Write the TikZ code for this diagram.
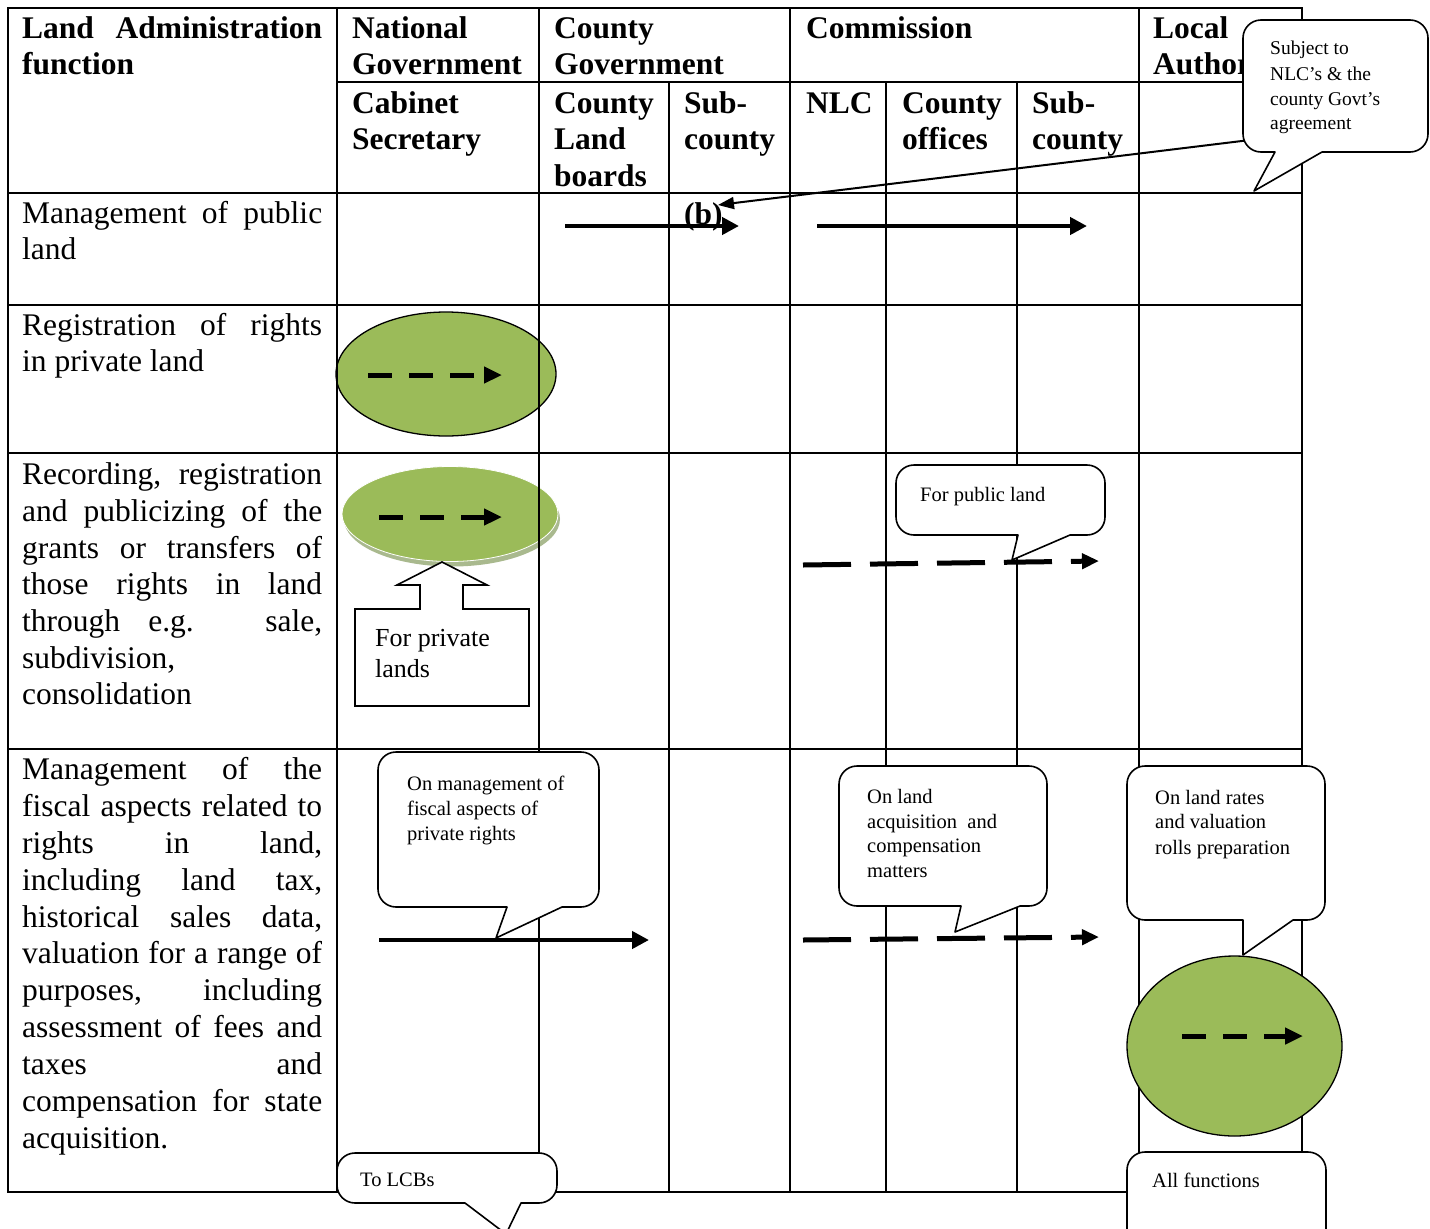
\documentclass[tikz,border=0pt]{standalone}
\usepackage{fontspec}
\setmainfont{Liberation Serif}
\usetikzlibrary{arrows.meta,shapes.geometric}
\definecolor{olivegreen}{HTML}{9BBB59}
\definecolor{oliveshadow}{HTML}{A9B98E}
\newcommand{\J}[1]{\makebox[300pt][s]{#1}}
% callout: x1,y1,x2,y2, pointer base xa, xb, tip tx, ty
\newcommand{\mycallout}[8]{%
  \filldraw[calloutbox] (#5,#4) -- (#7,#8) -- (#6,#4) -- ({#3-18},#4) arc[start angle=90,end angle=0,radius=18]
  -- (#3,{#2+18}) arc[start angle=0,end angle=-90,radius=18]
  -- ({#1+18},#2) arc[start angle=270,end angle=180,radius=18]
  -- (#1,{#4-18}) arc[start angle=180,end angle=90,radius=18] -- cycle;}
\begin{document}
\begin{tikzpicture}[x=1pt,y=-1pt,
  grid/.style={line width=2.2pt},
  body/.style={anchor=base west, inner sep=0pt, font=\fontsize{31.5}{36}\selectfont},
  head/.style={anchor=base west, inner sep=0pt, font=\fontsize{31.5}{36}\selectfont\bfseries},
  small/.style={anchor=base west, inner sep=0pt, font=\fontsize{20.5}{25}\selectfont},
  tiny/.style={anchor=base west, inner sep=0pt, font=\fontsize{19.5}{24}\selectfont},
  mid/.style={anchor=base west, inner sep=0pt, font=\fontsize{26}{31}\selectfont},
  calloutbox/.style={draw=black, fill=white, line width=1.6pt, line join=round},
  solidarrow/.style={line width=4.5pt, -{Triangle[length=17pt,width=17pt]}},
  dasharrow/.style={line width=5pt, dash pattern=on 48pt off 19pt, -{Triangle[length=17pt,width=15pt]}},
  shortdash/.style={line width=5pt, dash pattern=on 24pt off 17pt, -{Triangle[length=18pt,width=16pt]}},
  greenell/.style={ellipse, fill=olivegreen, draw=black, line width=1.3pt, inner sep=0pt}]
\useasboundingbox (0,0) rectangle (1430,1229);
\fill[white] (0,0) rectangle (1430,1229);
\clip (0,0) rectangle (1430,1229);

% ellipses under the grid
\node[greenell, minimum width=220pt, minimum height=124pt] (e1) at (446,374) {};
\node[ellipse, fill=oliveshadow, inner sep=0pt, minimum width=216pt, minimum height=95pt] (e2s) at (452,519) {};
\node[ellipse, fill=olivegreen, draw=white, line width=0.8pt, inner sep=0pt, minimum width=216pt, minimum height=95pt] (e2) at (450,514) {};

% grid
\draw[grid] (8,8) rectangle (1302,1192);
\draw[grid] (337,82) -- (1302,82);
\foreach \yy in {193,305,453,749} {\draw[grid] (8,\yy) -- (1302,\yy);}
\foreach \xx in {337,539,790,1139} {\draw[grid] (\xx,8) -- (\xx,1192);}
\foreach \xx in {669,886,1017} {\draw[grid] (\xx,82) -- (\xx,1192);}

% ellipse over the grid
\node[greenell, minimum width=215pt, minimum height=180pt] (e3) at (1234.5,1046) {};

% headers
\node[head] (h1a) at (22,38) {\J{Land Administration}};
\node[head] (h1b) at (22,74) {function};
\node[head] (h2a) at (352,38) {National};
\node[head] (h2b) at (352,74) {Government};
\node[head] (h3a) at (554,38) {County};
\node[head] (h3b) at (554,74) {Government};
\node[head] (h4) at (806,38) {Commission};
\node[head] (h5a) at (1153,38) {Local};
\node[head] (h5b) at (1153,74) {Authority};
\node[head] (s1a) at (352,113) {Cabinet};
\node[head] (s1b) at (352,149.5) {Secretary};
\node[head] (s2a) at (554,113) {County};
\node[head] (s2b) at (554,149.5) {Land};
\node[head] (s2c) at (554,186) {boards};
\node[head] (s3a) at (684,113) {Sub-};
\node[head] (s3b) at (684,149.5) {county};
\node[head] (s4) at (806,113) {NLC};
\node[head] (s5a) at (902,113) {County};
\node[head] (s5b) at (902,149.5) {offices};
\node[head] (s6a) at (1032,113) {Sub-};
\node[head] (s6b) at (1032,149.5) {county};

% row texts
\node[body] (r1a) at (22,223) {\J{Management of public}};
\node[body] (r1b) at (22,259) {land};
\node[body] (r2a) at (22,335) {\J{Registration of rights}};
\node[body] (r2b) at (22,371) {in private land};
\node[body] (r3a) at (22,484) {\J{Recording, registration}};
\node[body] (r3b) at (22,521) {\J{and publicizing of the}};
\node[body] (r3c) at (22,558) {\J{grants or transfers of}};
\node[body] (r3d) at (22,594) {\J{those rights in land}};
\node[body] (r3e) at (22,631) {\J{through e.g. sale,}};
\node[body] (r3f) at (22,668) {subdivision,};
\node[body] (r3g) at (22,704) {consolidation};
\node[body] (r4a) at (22,779) {\J{Management of the}};
\node[body] (r4b) at (22,816) {\J{fiscal aspects related to}};
\node[body] (r4c) at (22,853) {\J{rights in land,}};
\node[body] (r4d) at (22,890) {\J{including land tax,}};
\node[body] (r4e) at (22,927) {\J{historical sales data,}};
\node[body] (r4f) at (22,963) {\J{valuation for a range of}};
\node[body] (r4g) at (22,1000) {\J{purposes, including}};
\node[body] (r4h) at (22,1037) {\J{assessment of fees and}};
\node[body] (r4i) at (22,1074) {\J{taxes and}};
\node[body] (r4j) at (22,1111) {\J{compensation for state}};
\node[body] (r4k) at (22,1148) {acquisition.};

\node[head] (bl) at (684,224) {(b)};

% arrows
\coordinate (a1s) at (565,226); \coordinate (a1e) at (739,226);
\coordinate (a2s) at (817,226); \coordinate (a2e) at (1087,226);
\draw[solidarrow] (a1s) -- (a1e);
\draw[solidarrow] (a2s) -- (a2e);
\coordinate (cs) at (1250,140); \coordinate (bt) at (718,205);
\draw[line width=2pt, -{Triangle[length=16pt,width=12pt]}] (cs) -- (bt);

\coordinate (d1s) at (368,375); \coordinate (d1e) at (502,375);
\draw[shortdash] (d1s) -- (d1e);
\coordinate (d2s) at (379,517); \coordinate (d2e) at (502,517);
\draw[shortdash] (d2s) -- (d2e);
\coordinate (d3s) at (803,565); \coordinate (d3e) at (1099,561);
\draw[dasharrow] (d3s) -- (d3e);
\coordinate (f1s) at (379,940); \coordinate (f1e) at (649,940);
\draw[solidarrow] (f1s) -- (f1e);
\coordinate (d4s) at (803,940); \coordinate (d4e) at (1099,937);
\draw[dasharrow] (d4s) -- (d4e);
\coordinate (d5s) at (1182,1036); \coordinate (d5e) at (1303,1036);
\draw[shortdash] (d5s) -- (d5e);

% up-arrow callout
\filldraw[calloutbox, line join=miter] (355,609) -- (420,609) -- (420,585) -- (397,585) -- (442,562) -- (487,585) -- (463,585) -- (463,609) -- (529,609) -- (529,706) -- (355,706) -- cycle;
\node[mid] (fp1) at (375,646) {For private};
\node[mid] (fp2) at (375,677) {lands};

% callouts
\mycallout{1243}{20}{1428}{152}{1275}{1322}{1254}{191}
\node[tiny] (c1a) at (1270,54.5) {Subject to};
\node[tiny] (c1b) at (1270,80) {NLC’s \& the};
\node[tiny] (c1c) at (1270,105) {county Govt’s};
\node[tiny] (c1d) at (1270,129.5) {agreement};

\mycallout{896}{465}{1105}{535}{1018}{1070}{1012}{560}
\node[small] (c2) at (920,501) {For public land};

\mycallout{378}{752}{599}{907}{507}{562}{496}{938}
\node[small] (c3a) at (407,790) {On management of};
\node[small] (c3b) at (407,815) {fiscal aspects of};
\node[small] (c3c) at (407,840) {private rights};

\mycallout{839}{766}{1047}{906}{961}{1020}{955}{932}
\node[small] (c4a) at (867,803) {On land};
\node[small] (c4b) at (867,828) {acquisition\ \ and};
\node[small] (c4c) at (867,852) {compensation};
\node[small] (c4d) at (867,877) {matters};

\mycallout{1127}{766}{1325}{920}{1243}{1293}{1243}{955}
\node[small] (c5a) at (1155,804) {On land rates};
\node[small] (c5b) at (1155,828) {and valuation};
\node[small] (c5c) at (1155,854) {rolls preparation};

\mycallout{337}{1153}{557}{1203}{465}{521}{506}{1234}
\node[small] (c6) at (360,1186) {To LCBs};

\mycallout{1127}{1152}{1326}{1265}{1200}{1201}{1200}{1266}
\node[small] (c7) at (1152,1187) {All functions};
\end{tikzpicture}
\end{document}
